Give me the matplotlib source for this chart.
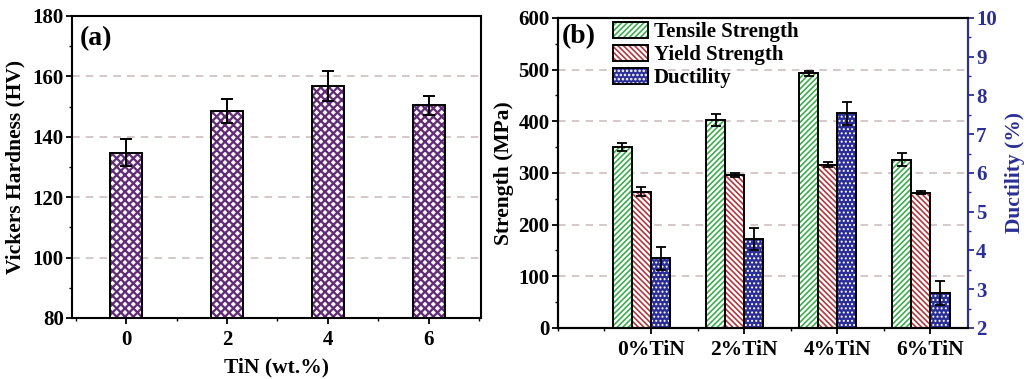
import matplotlib
matplotlib.use("Agg")
import matplotlib.pyplot as plt
from matplotlib.patches import Patch
from matplotlib.ticker import MultipleLocator
import numpy as np

plt.rcParams['font.family'] = ['Liberation Serif', 'DejaVu Serif']
plt.rcParams['font.weight'] = 'bold'
plt.rcParams['axes.labelweight'] = 'bold'
plt.rcParams['hatch.linewidth'] = 1.2

# (a) hardness data
tin_wt = [0, 2, 4, 6]
hardness = [134.7, 148.5, 156.8, 150.4]
hardness_err = [4.5, 4.0, 5.0, 3.2]

# (b) tensile data
groups = ["0%TiN", "2%TiN", "4%TiN", "6%TiN"]
tensile = [350, 402, 493, 326]
tensile_err = [8, 12, 5, 13]
yield_s = [264, 296, 316, 262]
yield_err = [9, 4, 5, 3]
ductility = [3.80, 4.30, 7.54, 2.90]
ductility_err = [0.30, 0.28, 0.30, 0.31]

purple = "#5E2D73"
green = "#3DAE4E"
red = "#B3383F"
blue = "#2B2F95"
grid_c = "#C9B9B9"

fig = plt.figure(figsize=(10.35, 3.79), dpi=100)
ax1 = fig.add_axes([0.0696, 0.161, 0.395, 0.797])
ax2 = fig.add_axes([0.539, 0.1346, 0.396, 0.818])


def hatched_bar(ax, x, h, w, fc, hc, hatch, hlw=1.2, zorder=2):
    with plt.rc_context({'hatch.linewidth': hlw}):
        ax.bar(x, h, w, color=fc, edgecolor=hc, hatch=hatch, linewidth=0, zorder=zorder)
    ax.bar(x, h, w, facecolor="none", edgecolor="black", linewidth=1.4, zorder=zorder + 0.1)


# ---- panel (a)
hatched_bar(ax1, tin_wt, hardness, 0.62, "#FFF6FA", purple, "xxxx", hlw=1.6)
ax1.errorbar(tin_wt, hardness, yerr=hardness_err, fmt="none", ecolor="black",
             elinewidth=1.4, capsize=4, capthick=1.4, zorder=4)
ax1.set_xlim(-1.07, 7.03)
ax1.set_ylim(80, 180)
ax1.set_xticks(tin_wt)
ax1.xaxis.set_minor_locator(MultipleLocator(1))
ax1.yaxis.set_major_locator(MultipleLocator(20))
ax1.yaxis.set_minor_locator(MultipleLocator(10))
for v in [100, 120, 140, 160]:
    ax1.axhline(v, color=grid_c, ls=(0, (5, 4)), lw=1.1, zorder=1)
ax1.set_xlabel("TiN (wt.%)", fontsize=15.5, labelpad=5)
ax1.set_ylabel("Vickers Hardness (HV)", fontsize=15.5, labelpad=5)
ax1.text(0.02, 0.965, "(a)", transform=ax1.transAxes, fontsize=20,
         fontweight="bold", va="top", ha="left")
ax1.tick_params(axis="both", which="major", direction="out", length=4, width=1.3,
                labelsize=15, right=False, top=False, pad=2)
ax1.tick_params(axis="x", which="major", pad=5)
ax1.tick_params(axis="both", which="minor", direction="out", length=2.5, width=1.0)
for s in ax1.spines.values():
    s.set_linewidth(1.5)

# ---- panel (b)
x = np.arange(1, 5)
w = 0.205
ax3 = ax2.twinx()
hatched_bar(ax2, x - 1.5 * w, tensile, w, "white", green, "//////", hlw=1.2)
ax2.errorbar(x - 1.5 * w, tensile, yerr=tensile_err, fmt="none", ecolor="black",
             elinewidth=1.3, capsize=3.5, capthick=1.3, zorder=4)
hatched_bar(ax2, x - 0.5 * w, yield_s, w, "white", red, "\\" * 6, hlw=1.2)
ax2.errorbar(x - 0.5 * w, yield_s, yerr=yield_err, fmt="none", ecolor="black",
             elinewidth=1.3, capsize=3.5, capthick=1.3, zorder=4)
hatched_bar(ax3, x + 0.5 * w, ductility, w, blue, "white", "....", hlw=0.9)
ax3.errorbar(x + 0.5 * w, ductility, yerr=ductility_err, fmt="none", ecolor="black",
             elinewidth=1.3, capsize=3.5, capthick=1.3, zorder=4)

ax2.set_xlim(0, 4.4)
ax2.set_ylim(0, 600)
ax3.set_ylim(2, 10)
ax2.set_xticks(x)
ax2.set_xticklabels(groups)
ax2.xaxis.set_minor_locator(MultipleLocator(0.5))
ax2.yaxis.set_major_locator(MultipleLocator(100))
ax2.yaxis.set_minor_locator(MultipleLocator(50))
ax3.yaxis.set_major_locator(MultipleLocator(1))
ax3.yaxis.set_minor_locator(MultipleLocator(0.5))
for v in [100, 200, 300, 400, 500]:
    ax2.axhline(v, color=grid_c, ls=(0, (5, 4)), lw=1.1, zorder=1)

ax2.set_ylabel("Strength (MPa)", fontsize=15.5, labelpad=3)
ax3.set_ylabel("Ductility (%)", fontsize=15.5, color=blue, labelpad=6)
ax2.text(0.01, 0.98, "(b)", transform=ax2.transAxes, fontsize=20,
         fontweight="bold", va="top", ha="left")
ax2.tick_params(axis="both", which="major", direction="out", length=4, width=1.3,
                labelsize=15, top=False, pad=2)
ax2.tick_params(axis="both", which="minor", direction="out", length=2.5, width=1.0)
ax2.tick_params(axis="x", which="major", pad=5, labelsize=15.5)
ax3.tick_params(axis="y", which="major", direction="out", length=4, width=1.3,
                labelsize=15, colors=blue, pad=2)
ax3.tick_params(axis="y", which="minor", direction="out", length=2.5, width=1.0, colors=blue)
for s in ax2.spines.values():
    s.set_linewidth(1.5)
for s in ax3.spines.values():
    s.set_linewidth(1.5)
ax3.spines["right"].set_color(blue)
ax3.set_zorder(ax2.get_zorder() + 1)
ax3.patch.set_visible(False)


def legend_handle(fc, hc, hatch, hlw):
    with plt.rc_context({'hatch.linewidth': hlw}):
        p = Patch(facecolor=fc, edgecolor=hc, hatch=hatch, linewidth=0)
    return (p, Patch(facecolor="none", edgecolor="black", linewidth=1.4))


handles = [
    legend_handle("white", green, "//////", 1.2),
    legend_handle("white", red, "\\" * 6, 1.2),
    legend_handle(blue, "white", "....", 0.9),
]
ax3.legend(handles, ["Tensile Strength", "Yield Strength", "Ductility"],
           loc="upper left", bbox_to_anchor=(0.1, 1.035), frameon=False,
           fontsize=15, handlelength=1.65, handleheight=0.85,
           handletextpad=0.3, labelspacing=0.12, borderaxespad=0.3)

fig.savefig("out.png", dpi=100)
